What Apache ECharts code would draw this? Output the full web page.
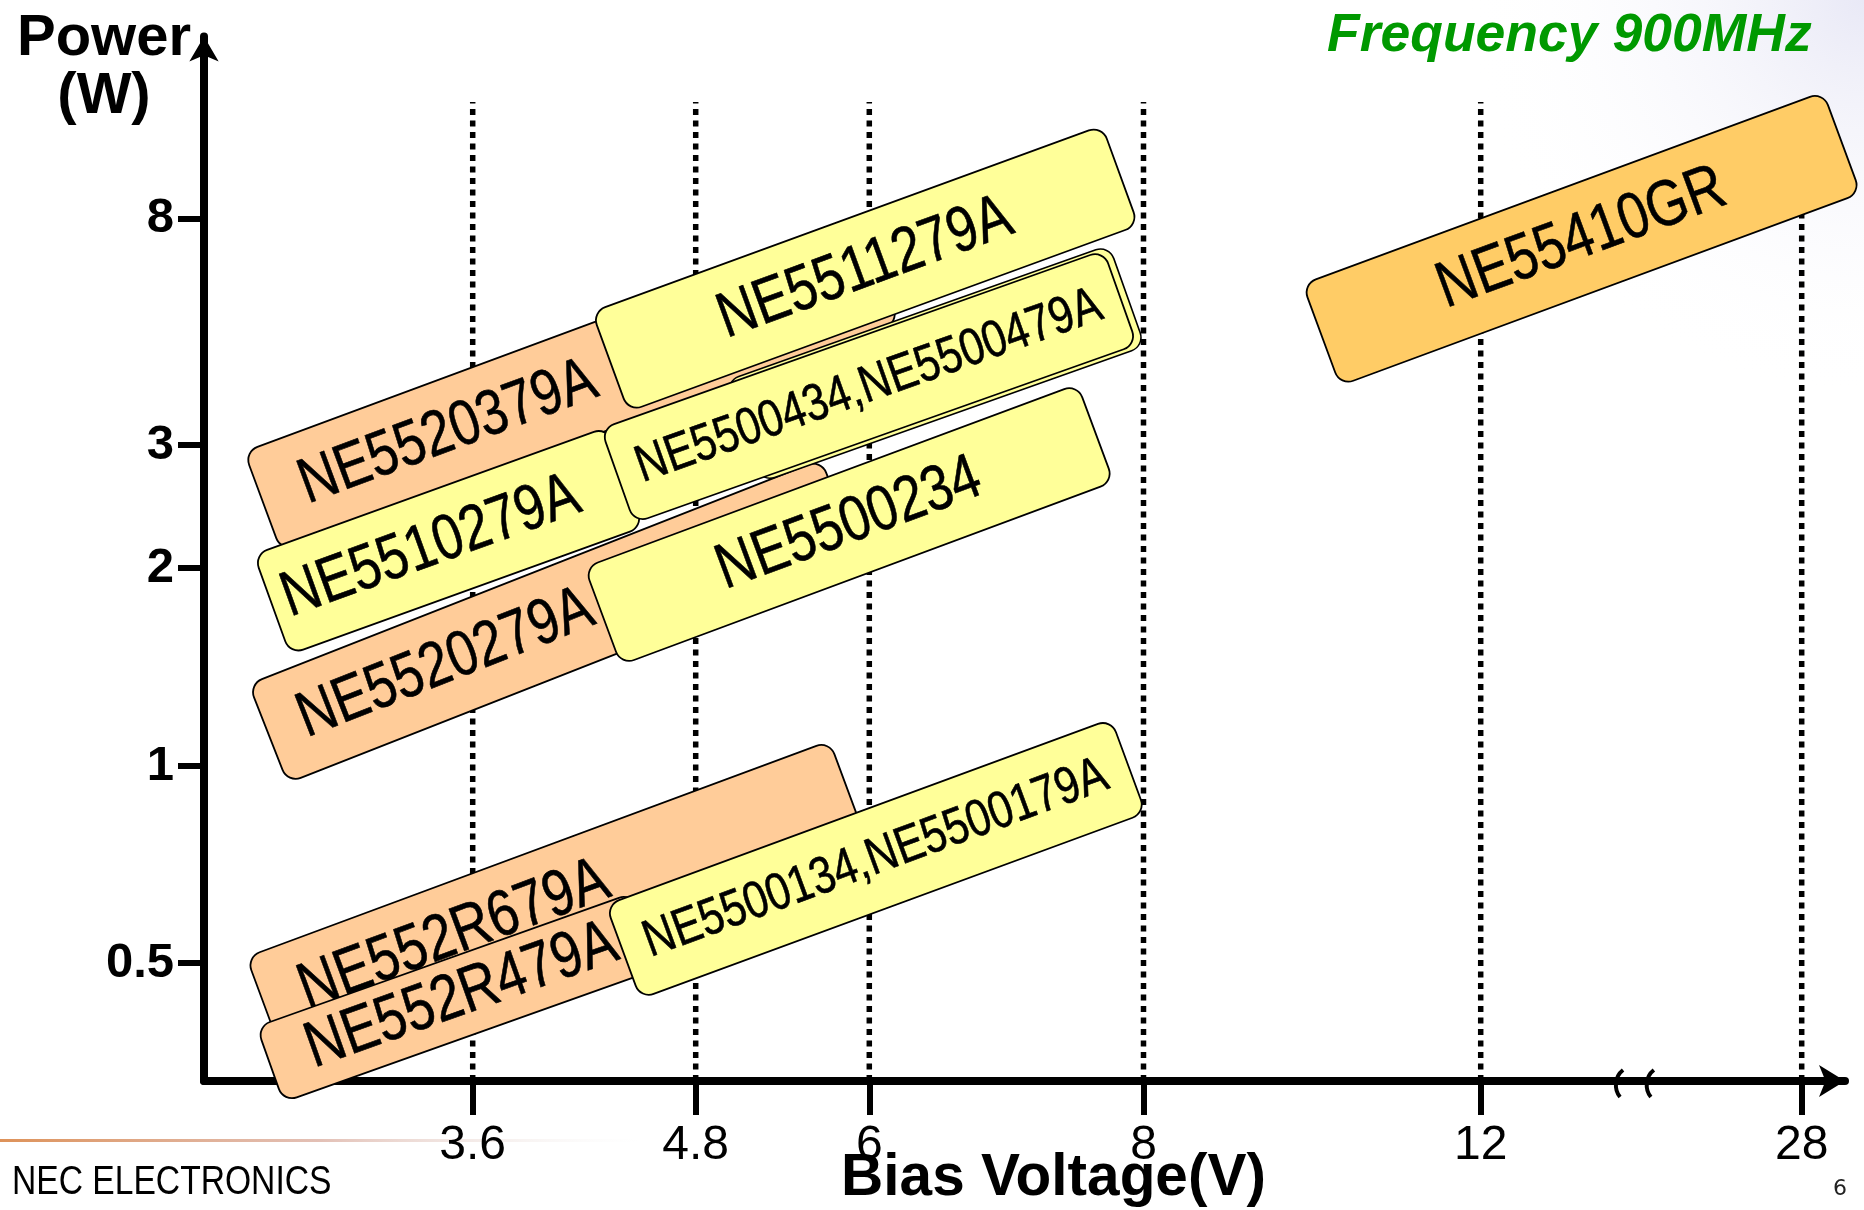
<!DOCTYPE html>
<html>
<head>
<meta charset="utf-8">
<script src="https://cdn.jsdelivr.net/npm/echarts@6/dist/echarts.min.js"></script>
<style>
html,body{margin:0;padding:0;background:#fff;}
#c{width:1864px;height:1210px;}
</style>
</head>
<body>
<div id="c"></div>
<script>
// ---------------- data ----------------
const xTickLabels = ['3.6', '4.8', '6', '8', '12', '28'];
const xTickVolts = [3.6, 4.8, 6, 8, 12, 28];
const yTickLabels = ['0.5', '1', '2', '3', '8'];
const yTickWatts = [0.5, 1, 2, 3, 8];

const devices = ['NE5520379A', 'NE5510279A', 'NE5520279A', 'NE5511279A', 'NE5500434,NE5500479A',
                 'NE5500234', 'NE552R679A', 'NE552R479A', 'NE5500134,NE5500179A', 'NE55410GR'];
const deviceGroup = ['A', 'B', 'A', 'B', 'B', 'B', 'A', 'A', 'B', 'C'];
// operating band of each device: start / end bias voltage (V) and output power (W)
const voltFrom  = [2.47, 2.52, 2.50, 4.34, 4.38, 4.30, 2.48, 2.51, 4.41, 10.11];
const voltTo    = [6.08, 4.42, 5.80, 7.83, 7.83, 7.65, 5.85, 4.53, 7.89, 30.0];
const powerFrom = [2.49, 1.76, 1.12, 4.30, 2.71, 1.69, 0.43, 0.35, 0.52, 4.83];
const powerTo   = [6.32, 2.70, 2.43, 9.63, 5.68, 3.16, 0.92, 0.56, 1.00, 11.10];

// ---------------- schematic axes (uneven tick spacing of the drawing) ----------------
const xTickSlots = [2.687, 4.917, 6.653, 9.395, 12.767, 15.977];
const yTickSlots = [1.18, 3.15, 5.13, 6.36, 8.627];

function interp(v, xs, ys) {
  let i = 0;
  while (i < xs.length - 2 && v > xs[i + 1]) i++;
  const t = (v - xs[i]) / (xs[i + 1] - xs[i]);
  return ys[i] + t * (ys[i + 1] - ys[i]);
}
const xPos = v => interp(v, xTickVolts, xTickSlots);
const yLog = yTickWatts.map(Math.log);
const yPos = w => interp(Math.log(w), yLog, yTickSlots);
function nearestLabel(val, slots, labels) {
  let best = 0;
  for (let i = 1; i < slots.length; i++) if (Math.abs(slots[i] - val) < Math.abs(slots[best] - val)) best = i;
  return labels[best];
}

// ---------------- styles / layout ----------------
const groupColor = { A: '#FFCC99', B: '#FFFF99', C: '#FFCC66' };
const boxThickness = [106, 106, 106, 106, 100, 104, 104, 80, 100, 108];
const labelSize = [64, 64, 64, 64, 52, 64, 65, 65, 52, 65];
const labelAt = [0.30, 0.45, 0.31, 0.5, 0.5, 0.5, 0.325, 0.51, 0.5, 0.5];
const doubleOutline = [false, false, false, false, true, false, false, false, false, false];
const gridlineTop = 9.79;
const breakMarkAt = [0.431, 0.527];

const boxData = devices.map((d, i) => [xPos(voltFrom[i]), yPos(powerFrom[i]), xPos(voltTo[i]), yPos(powerTo[i]), i]);

const chart = echarts.init(document.getElementById('c'), null, { renderer: 'canvas' });

const option = {
  animation: false,
  backgroundColor: '#ffffff',
  grid: { left: 204, right: 19, top: 36.5, bottom: 129, containLabel: false, outerBoundsMode: 'none' },
  xAxis: {
    type: 'value', min: 0, max: 16.41,
    axisLine: { show: true, onZero: false, symbol: ['none', 'arrow'], symbolSize: [24, 26],
      lineStyle: { color: '#000', width: 8 } },
    axisTick: { show: true, customValues: xTickSlots, length: 34, lineStyle: { color: '#000', width: 6 } },
    axisLabel: { show: true, customValues: xTickSlots, margin: 41,
      formatter: v => nearestLabel(v, xTickSlots, xTickLabels),
      fontSize: 48, fontFamily: "'Liberation Sans Narrow', 'Liberation Sans', sans-serif", color: '#000' },
    splitLine: { show: false },
    name: 'Bias Voltage(V)', nameLocation: 'middle', nameGap: 68, nameMoveOverlap: false,
    nameTextStyle: { fontSize: 58.5, fontWeight: 'bold', fontFamily: 'Liberation Sans', color: '#000',
      padding: [0, 0, 0, 58] }
  },
  yAxis: {
    type: 'value', min: 0, max: 10.445,
    axisLine: { show: true, onZero: false, symbol: ['none', 'arrow'], symbolSize: [22, 25],
      lineStyle: { color: '#000', width: 8 } },
    axisTick: { show: true, customValues: yTickSlots, length: 26, lineStyle: { color: '#000', width: 6 } },
    axisLabel: { show: true, customValues: yTickSlots, margin: 30,
      formatter: v => nearestLabel(v, yTickSlots, yTickLabels),
      fontSize: 49, fontWeight: 'bold', fontFamily: 'Liberation Sans', color: '#000' },
    splitLine: { show: false }
  },
  graphic: [
    { type: 'rect', z: -10, silent: true, shape: { x: 0, y: 0, width: 1864, height: 1210 },
      style: { fill: new echarts.graphic.RadialGradient(1, 0, 0.33, [
        { offset: 0, color: 'rgba(218,218,240,0.6)' }, { offset: 1, color: 'rgba(255,255,255,0)' }]) } },
    { type: 'rect', z: -5, silent: true, shape: { x: 0, y: 1139, width: 640, height: 3 },
      style: { fill: new echarts.graphic.LinearGradient(0, 0, 1, 0, [
        { offset: 0, color: 'rgba(220,140,80,0.95)' }, { offset: 0.5, color: 'rgba(215,165,150,0.7)' },
        { offset: 1, color: 'rgba(235,235,235,0)' }]) } },
    { type: 'text', x: 104, y: 39, style: { text: 'Power', fontSize: 58, fontWeight: 'bold', fontFamily: 'Liberation Sans',
      fill: '#000', align: 'center', textAlign: 'center', verticalAlign: 'middle', textVerticalAlign: 'middle' } },
    { type: 'text', x: 104, y: 97, style: { text: '(W)', fontSize: 58, fontWeight: 'bold', fontFamily: 'Liberation Sans',
      fill: '#000', align: 'center', textAlign: 'center', verticalAlign: 'middle', textVerticalAlign: 'middle' } },
    { type: 'text', x: 1327, y: 36, style: { text: 'Frequency 900MHz', fontSize: 53.5, fontWeight: 'bold', fontStyle: 'italic',
      fontFamily: 'Liberation Sans', fill: '#009900', align: 'left', textAlign: 'left', verticalAlign: 'middle', textVerticalAlign: 'middle' } },
    { type: 'text', x: 12, y: 1183, scaleX: 0.82, style: { text: 'NEC ELECTRONICS', fontSize: 41, fontFamily: 'Liberation Sans',
      fill: '#000', align: 'left', textAlign: 'left', verticalAlign: 'middle', textVerticalAlign: 'middle' } },
    { type: 'text', x: 1840, y: 1189, style: { text: '6', fontSize: 22, fontFamily: 'DejaVu Sans',
      fill: '#222', align: 'center', textAlign: 'center', verticalAlign: 'middle', textVerticalAlign: 'middle' } }
  ],
  series: [
    {
      type: 'custom', name: 'gridlines', z: 1, silent: true,
      data: xTickVolts.map(v => [xPos(v), 0]),
      encode: { x: 0, y: 1 },
      renderItem: (params, api) => {
        const a = api.coord([api.value(0), 0]);
        const b = api.coord([api.value(0), gridlineTop]);
        return { type: 'line', shape: { x1: a[0], y1: a[1], x2: b[0], y2: b[1] },
          style: { stroke: '#000', lineWidth: 5.5, lineDash: [6, 5.5] } };
      }
    },
    {
      type: 'custom', name: 'devices', z: 3,
      data: boxData,
      encode: { x: [0, 2], y: [1, 3] },
      renderItem: (params, api) => {
        const i = api.value(4);
        const p0 = api.coord([api.value(0), api.value(1)]);
        const p1 = api.coord([api.value(2), api.value(3)]);
        const dx = p1[0] - p0[0], dy = p1[1] - p0[1];
        const L = Math.hypot(dx, dy);
        const rot = -Math.atan2(dy, dx);
        const T = boxThickness[i];
        const fill = groupColor[deviceGroup[i]];
        const children = [];
        if (doubleOutline[i]) {
          children.push({ type: 'rect', shape: { x: 0.25 * L, y: -T / 2 - 3, width: 0.75 * L + 7, height: T + 7, r: 14 },
            style: { fill: fill, stroke: '#000', lineWidth: 1.6 } });
        }
        children.push({ type: 'rect', shape: { x: 0, y: -T / 2, width: L, height: T, r: 14 },
          style: { fill: fill, stroke: '#000', lineWidth: 1.8 } });
        children.push({ type: 'text', x: labelAt[i] * L, y: 0, scaleX: 0.82,
          style: { text: devices[i], fontSize: labelSize[i], fontFamily: 'Liberation Sans', fill: '#000',
            stroke: '#000', lineWidth: 0.6,
            align: 'center', textAlign: 'center', verticalAlign: 'middle', textVerticalAlign: 'middle' } });
        return { type: 'group', x: p0[0], y: p0[1], rotation: rot, children: children };
      }
    },
    {
      type: 'custom', name: 'axis break', z: 4, silent: true,
      data: breakMarkAt.map(f => [xTickSlots[4] + f * (xTickSlots[5] - xTickSlots[4]), 0]),
      encode: { x: 0, y: 1 },
      renderItem: (params, api) => {
        const p = api.coord([api.value(0), 0]);
        const x = p[0], y = p[1];
        return { type: 'bezierCurve',
          shape: { x1: x + 4, y1: y - 11, cpx1: x - 5, cpy1: y - 4, cpx2: x - 5, cpy2: y + 9, x2: x + 1, y2: y + 16 },
          style: { stroke: '#000', lineWidth: 4, fill: null } };
      }
    }
  ]
};
chart.setOption(option);
</script>
</body>
</html>
